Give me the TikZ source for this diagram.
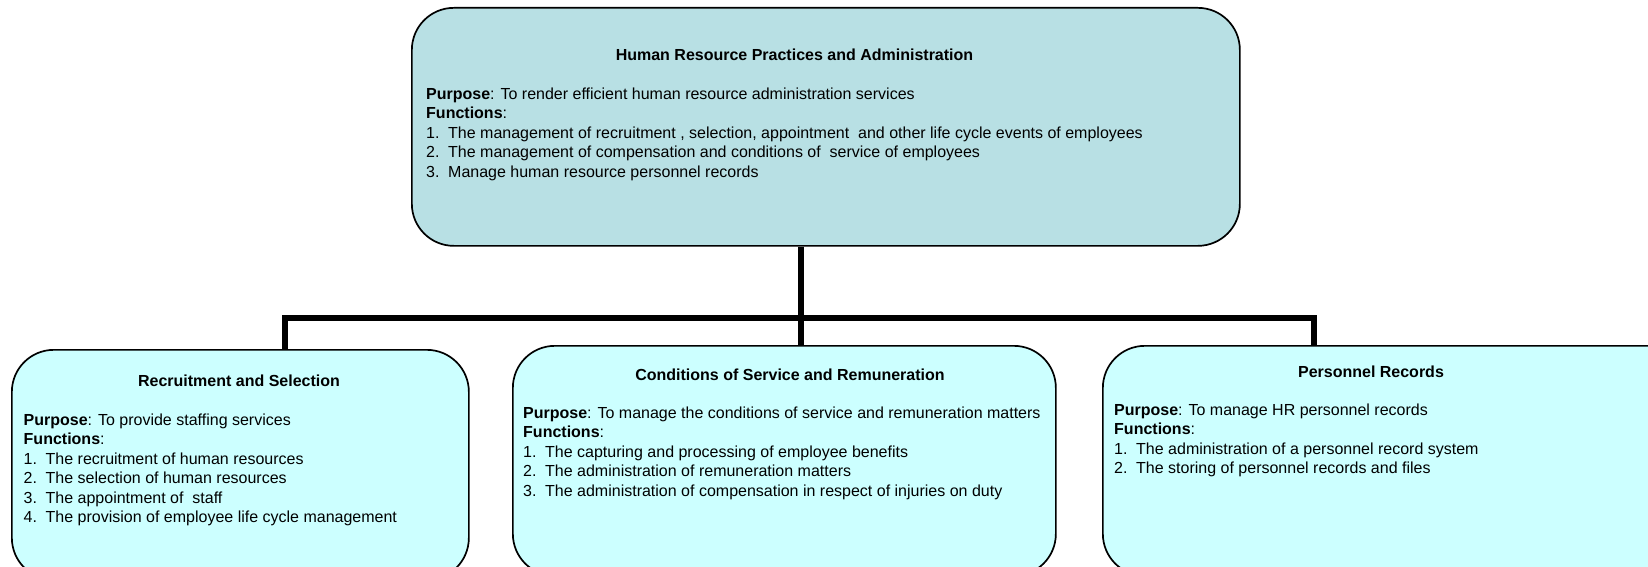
\documentclass[tikz,border=0pt]{standalone}
\usepackage{fontspec}
\setmainfont{Liberation Sans}
\definecolor{topfill}{RGB}{184,224,228}
\definecolor{subfill}{RGB}{204,255,255}
\tikzset{
  unitbox/.style={draw=black, line width=1.7pt, rounded corners=42pt, inner sep=0pt, anchor=north west},
  conn/.style={draw=black, line width=5.5pt, line join=miter},
  titletext/.style={font=\fontsize{16}{19.5}\selectfont\bfseries, inner sep=0pt, anchor=center},
  bodytext/.style={font=\fontsize{16}{19.5}\selectfont, inner sep=0pt, anchor=north west, align=left}
}
\newcommand{\itm}[1]{\makebox[22pt][l]{#1}}
\newcommand{\firstln}{\rule{0pt}{12pt}}
\begin{document}
\begin{tikzpicture}[x=1pt,y=-1pt]
\useasboundingbox (0,0) rectangle (1648,567);
% boxes
\node[unitbox, fill=topfill, minimum width=828pt, minimum height=238pt] (top) at (411,7) {};
\node[unitbox, fill=subfill, minimum width=457pt, minimum height=230pt] (rs) at (11,349) {};
\node[unitbox, fill=subfill, minimum width=543pt, minimum height=230pt] (cs) at (512,345) {};
\node[unitbox, fill=subfill, minimum width=600pt, minimum height=230pt] (pr) at (1102,345) {};
% connectors
\coordinate (jm) at (801,318);
\coordinate (jl) at (285,318);
\coordinate (jr) at (1314,318);
\draw[conn] (top.south -| jm) -- (cs.north -| jm);
\draw[conn] (rs.north -| jl) -- (jl) -- (jr) -- (pr.north -| jr);
% top text
\node[titletext] (toptitle) at (794.5,55) {Human Resource Practices and Administration};
\node[bodytext] (topbody) at (426,87) {\firstln\textbf{Purpose}: To render efficient human resource administration services\\
\textbf{Functions}:\\
\itm{1.}The management of recruitment , selection, appointment\ \ and other life cycle events of employees\\
\itm{2.}The management of compensation and conditions of\ \ service of employees\\
\itm{3.}Manage human resource personnel records};
% left text
\node[titletext] (rstitle) at (239,381) {Recruitment and Selection};
\node[bodytext] (rsbody) at (23.5,413) {\firstln\textbf{Purpose}: To provide staffing services\\
\textbf{Functions}:\\
\itm{1.}The recruitment of human resources\\
\itm{2.}The selection of human resources\\
\itm{3.}The appointment of\ \ staff\\
\itm{4.}The provision of employee life cycle management};
% middle text
\node[titletext] (cstitle) at (790,374.5) {Conditions of Service and Remuneration};
\node[bodytext] (csbody) at (523,406) {\firstln\textbf{Purpose}: To manage the conditions of service and remuneration matters\\
\textbf{Functions}:\\
\itm{1.}The capturing and processing of employee benefits\\
\itm{2.}The administration of remuneration matters\\
\itm{3.}The administration of compensation in respect of injuries on duty};
% right text
\node[titletext] (prtitle) at (1371,372) {Personnel Records};
\node[bodytext] (prbody) at (1114,403) {\firstln\textbf{Purpose}: To manage HR personnel records\\
\textbf{Functions}:\\
\itm{1.}The administration of a personnel record system\\
\itm{2.}The storing of personnel records and files};
\end{tikzpicture}
\end{document}
